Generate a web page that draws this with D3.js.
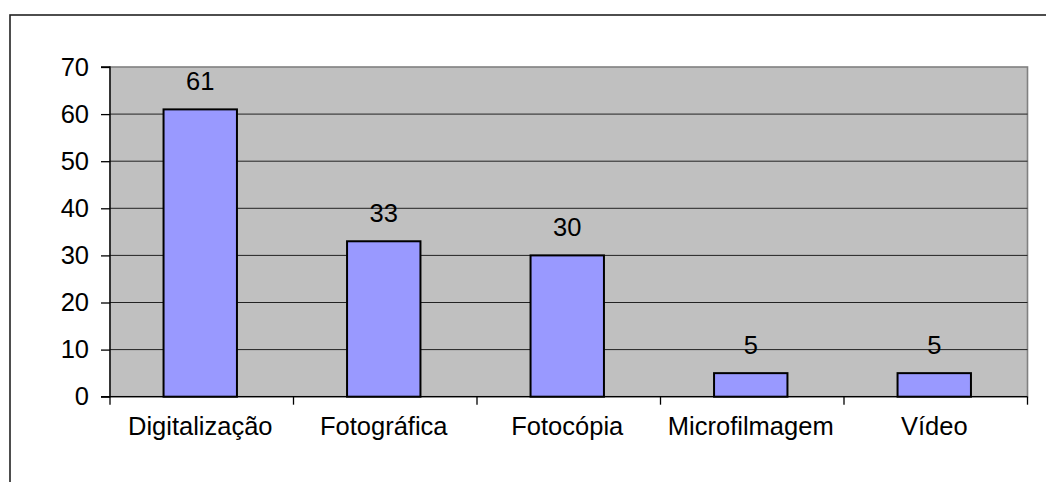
<!DOCTYPE html>
<html><head><meta charset="utf-8">
<script src="https://cdn.jsdelivr.net/npm/d3@7"></script>
<style>body{margin:0;background:#fff}svg{display:block}text{font-family:"Liberation Sans",Arial,sans-serif;fill:#000}</style>
</head><body>
<svg id="c" width="1046" height="482"></svg>
<script>
const categories = ["Digitalização","Fotográfica","Fotocópia","Microfilmagem","Vídeo"];
const values = [61,33,30,5,5];
const yTicks = [0,10,20,30,40,50,60,70];

const svg = d3.select("#c");
const L = 110, R = 1027.5, T = 67, B = 396.7;
const fs = 25.5;

// outer frame
svg.append("rect").attr("x",10).attr("y",15).attr("width",1100).attr("height",600)
  .attr("fill","none").attr("stroke","#222").attr("stroke-width",1.6);

const x = d3.scaleBand().domain(categories).range([L-1.5,R-1.5]).paddingInner(0.6).paddingOuter(0.3);
const y = d3.scaleLinear().domain([0,70]).range([B,T]);

// plot area
svg.append("rect").attr("x",L).attr("y",T).attr("width",R-L).attr("height",B-T)
  .attr("fill","#c0c0c0").attr("stroke","#808080").attr("stroke-width",1.6);

// gridlines
svg.append("g").selectAll("line").data(yTicks.filter(d=>d>0&&d<70)).join("line")
  .attr("x1",L).attr("x2",R).attr("y1",d=>y(d)).attr("y2",d=>y(d))
  .attr("stroke","#222").attr("stroke-width",1);

// bars
svg.append("g").selectAll("rect").data(values).join("rect")
  .attr("x",(d,i)=>x(categories[i])).attr("width",x.bandwidth())
  .attr("y",d=>y(d)).attr("height",d=>B-y(d))
  .attr("fill","#9999ff").attr("stroke","#000").attr("stroke-width",2);

// value labels
svg.append("g").selectAll("text").data(values).join("text")
  .attr("x",(d,i)=>x(categories[i])+x.bandwidth()/2).attr("y",d=>y(d)-19.5)
  .attr("text-anchor","middle").attr("font-size",fs).text(d=>d);

// y axis
const yAxis = d3.axisLeft(y).tickValues(yTicks).tickSize(9).tickPadding(12);
const gy = svg.append("g").attr("transform",`translate(${L},0)`).call(yAxis);
gy.select(".domain").attr("stroke","#000").attr("stroke-width",1.3).attr("d",`M-9,${T}H0V${B}H-9`);
gy.selectAll(".tick line").attr("stroke","#000").attr("stroke-width",1.3);
gy.selectAll(".tick text").attr("font-size",fs).attr("font-family","Liberation Sans, Arial, sans-serif").attr("fill","#000");

// x axis
const xAxis = d3.axisBottom(x).tickSize(0).tickPadding(20);
const gx = svg.append("g").attr("transform",`translate(0,${B})`).call(xAxis);
gx.select(".domain").attr("stroke","#000").attr("stroke-width",1.3).attr("d",`M${L},0H${R}`);
gx.selectAll(".tick text").attr("font-size",fs).attr("font-family","Liberation Sans, Arial, sans-serif").attr("fill","#000").attr("dy","0.71em");
// category boundary ticks
const bounds = d3.range(categories.length+1).map(i=> L + i*(R-L)/categories.length);
gx.append("g").selectAll("line").data(bounds).join("line")
  .attr("x1",d=>d).attr("x2",d=>d).attr("y1",0).attr("y2",8)
  .attr("stroke","#000").attr("stroke-width",1.3);
</script>
</body></html>
